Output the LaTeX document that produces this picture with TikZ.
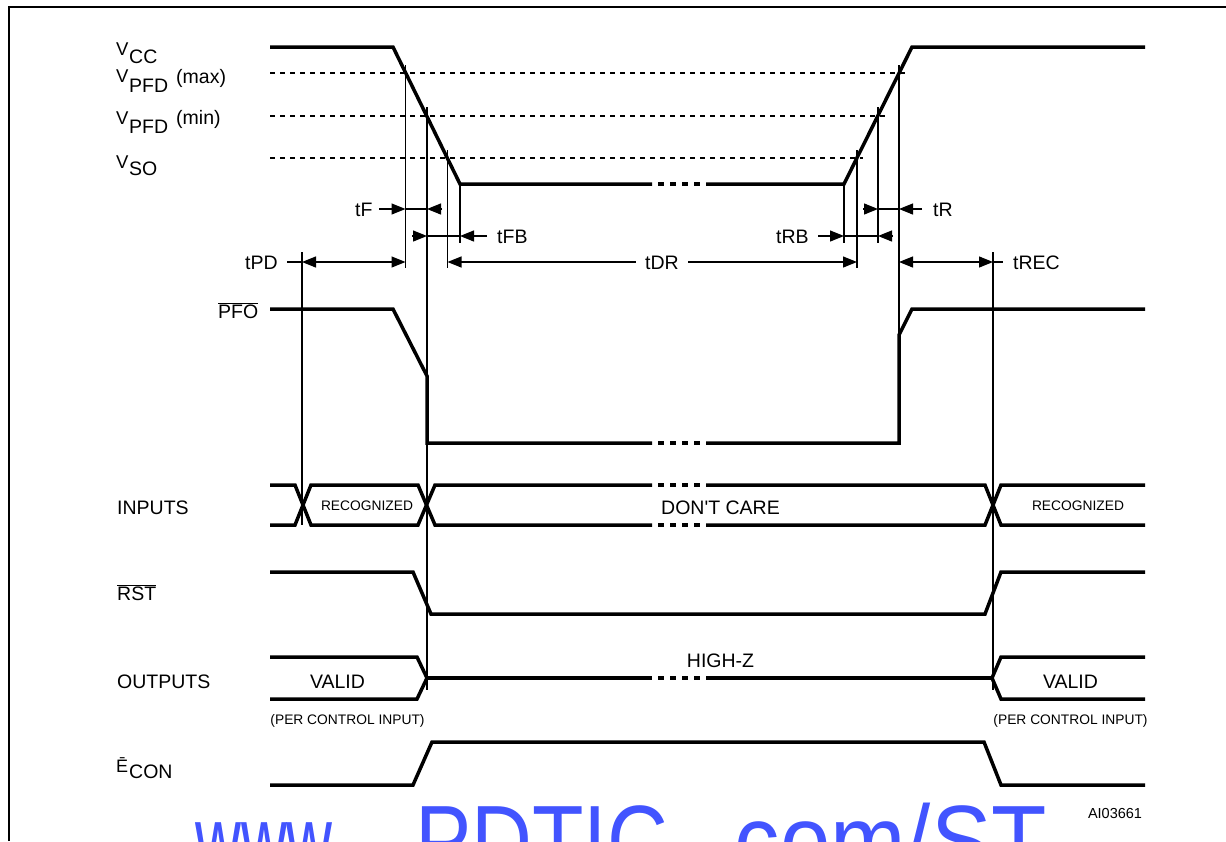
\documentclass[tikz,border=0pt]{standalone}
\usepackage{fontspec}
\setmainfont{Liberation Sans}
\usetikzlibrary{arrows.meta}
\definecolor{wm}{RGB}{66,84,255}
\newcommand\fsz[1]{\fontsize{#1}{#1}\selectfont}
\newcommand\sigbreak[1]{\draw[sig,dash pattern=on 6pt off 6pt] (658,#1) -- (700,#1);}
\begin{document}
\begin{tikzpicture}[x=1pt,y=-1pt,
  sig/.style={line width=3.5pt},
  thinl/.style={line width=1.2pt},
  dim/.style={line width=1.2pt},
  dashl/.style={line width=1.2pt,dash pattern=on 5pt off 5pt},
  >={Triangle[length=14pt,width=11pt]},
  lab/.style={inner sep=0pt,font=\fsz{19.5}},
  vlab/.style={inner sep=0pt,font=\fsz{18.5}},
  small/.style={inner sep=0pt,font=\fsz{13.8}},
]
\useasboundingbox (0,0) rectangle (1226,841);

% frame
\draw[line width=2.5pt] (9,841) -- (9,7) -- (1226,7);

% threshold dashed lines
\draw[dashl] (270,73) -- (907,73);
\draw[dashl] (270,116) -- (887,116);
\draw[dashl] (270,158) -- (863,158);

% thin timing verticals
\draw[thinl] (405.5,65) -- (405.5,268);
\draw[thinl] (427,107) -- (427,690);
\draw[thinl] (447.5,150) -- (447.5,268);
\draw[thinl] (460,184) -- (460,243);
\draw[thinl] (844,184) -- (844,243);
\draw[thinl] (857,150) -- (857,268);
\draw[thinl] (878,107) -- (878,243);
\draw[thinl] (899,65) -- (899,340);
\draw[thinl] (302,252) -- (302,525);
\draw[thinl] (993,252) -- (993,690);

% VCC
\draw[sig] (270,47) -- (393,47) -- (460,184) -- (652,184);
\sigbreak{184}
\draw[sig] (706,184) -- (844,184) -- (912,47) -- (1145,47);

% PFO
\draw[sig] (270,309) -- (393,309) -- (427,376) -- (427,443) -- (652,443);
\sigbreak{443}
\draw[sig] (706,443) -- (899,443) -- (899,335) -- (912,309) -- (1145,309);

% INPUTS
\draw[sig] (270,485) -- (295,485) -- (311,525) -- (418,525) -- (435,485) -- (652,485);
\draw[sig] (270,525) -- (295,525) -- (311,485) -- (418,485) -- (435,525) -- (652,525);
\sigbreak{485}
\sigbreak{525}
\draw[sig] (706,485) -- (985,485) -- (1001,525) -- (1145,525);
\draw[sig] (706,525) -- (985,525) -- (1001,485) -- (1145,485);

% RST
\draw[sig] (270,572) -- (413,572) -- (431,614) -- (985,614) -- (1001,572) -- (1145,572);

% OUTPUTS
\draw[sig] (270,657) -- (417,657) -- (427,678) -- (417,699) -- (270,699);
\draw[sig] (427,678) -- (652,678);
\sigbreak{678}
\draw[sig] (706,678) -- (992,678);
\draw[sig] (1145,657) -- (1001,657) -- (992,678) -- (1001,699) -- (1145,699);

% ECON
\draw[sig] (270,785) -- (413,785) -- (432,742) -- (984,742) -- (1001,785) -- (1145,785);

% signal labels
\node[vlab,anchor=base west] (vcc) at (116,55) {V};
\node[lab,anchor=base west] (vccs) at (129,63) {CC};
\node[vlab,anchor=base west] (vmax) at (116,82) {V};
\node[lab,anchor=base west] (vmaxs) at (129,92) {PFD};
\node[lab,anchor=base west] (vmaxt) at (176,83) {(max)};
\node[vlab,anchor=base west] (vmin) at (116,124.5) {V};
\node[lab,anchor=base west] (vmins) at (129,133.5) {PFD};
\node[lab,anchor=base west] (vmint) at (176,124.5) {(min)};
\node[vlab,anchor=base west] (vso) at (116,168) {V};
\node[lab,anchor=base west] (vsos) at (129,175) {SO};
\node[lab,anchor=base west] (pfo) at (218,318) {$\overline{\mbox{PFO}}$};
\node[lab,anchor=base west] (inp) at (117,514) {INPUTS};
\node[lab,anchor=base west] (rst) at (117,600) {$\overline{\mbox{RST}}$};
\node[lab,anchor=base west] (outp) at (117,688) {OUTPUTS};
\node[inner sep=0pt,font=\fsz{18},anchor=base west] (econ) at (116,772) {Ē};
\node[lab,anchor=base west] (econs) at (129,778) {CON};

% inner labels
\node[small,anchor=base] (rec1) at (367,510) {RECOGNIZED};
\node[small,anchor=base] (rec2) at (1078,510) {RECOGNIZED};
\node[lab,anchor=base] (dc) at (720.5,514) {DON\textquotesingle T CARE};
\node[lab,anchor=base] (val1) at (337.5,688) {VALID};
\node[lab,anchor=base] (val2) at (1070.5,688) {VALID};
\node[lab,anchor=base] (hz) at (720.5,667) {HIGH-Z};
\node[small,anchor=base] (pci1) at (347.5,724) {(PER CONTROL INPUT)};
\node[small,anchor=base] (pci2) at (1070.5,724) {(PER CONTROL INPUT)};
\node[inner sep=0pt,font=\fsz{14.5},anchor=base] (ai) at (1115,818) {AI03661};

% timing dimension labels and arrows
\node[lab,anchor=base west] (tF) at (355,216) {tF};
\draw[dim,->] (379,209) -- (405.5,209);
\draw[dim] (405.5,209) -- (427,209);
\draw[dim,->] (442,209) -- (427,209);

\node[lab,anchor=base west] (tFB) at (497,243) {tFB};
\draw[dim,->] (412,236) -- (427,236);
\draw[dim] (427,236) -- (460,236);
\draw[dim,->] (487,236) -- (460,236);

\node[lab,anchor=base west] (tPD) at (245,269) {tPD};
\draw[dim] (287,262) -- (302,262);
\draw[dim,<->] (302,262) -- (405.5,262);

\node[lab,anchor=base] (tDR) at (662,269) {tDR};
\draw[dim,<-] (447.5,262) -- (636,262);
\draw[dim,->] (688,262) -- (857,262);

\node[lab,anchor=base west] (tRB) at (776,243) {tRB};
\draw[dim,->] (818,236) -- (844,236);
\draw[dim] (844,236) -- (878,236);
\draw[dim,->] (893,236) -- (878,236);

\node[lab,anchor=base west] (tR) at (933,216) {tR};
\draw[dim,->] (863,209) -- (878,209);
\draw[dim] (878,209) -- (899,209);
\draw[dim,->] (922,209) -- (899,209);

\node[lab,anchor=base west] (tREC) at (1013,269) {tREC};
\draw[dim,<->] (899,262) -- (993,262);
\draw[dim] (993,262) -- (1003,262);

% watermark
\begin{scope}
\clip (0,0) rectangle (1226,841);
\node[inner sep=0pt,anchor=base west,text=wm,font=\fsz{100}] (w1) at (195,875) {\scalebox{0.635}[1]{www.}};
\node[inner sep=0pt,anchor=base west,text=wm,font=\fsz{100}] (w2) at (415,875) {\scalebox{0.843}[1]{PDTIC}};
\node[inner sep=0pt,anchor=base east,text=wm,font=\fsz{100}] (w3) at (1047,875) {\scalebox{0.906}[1]{.com/ST}};
\end{scope}
\end{tikzpicture}
\end{document}
